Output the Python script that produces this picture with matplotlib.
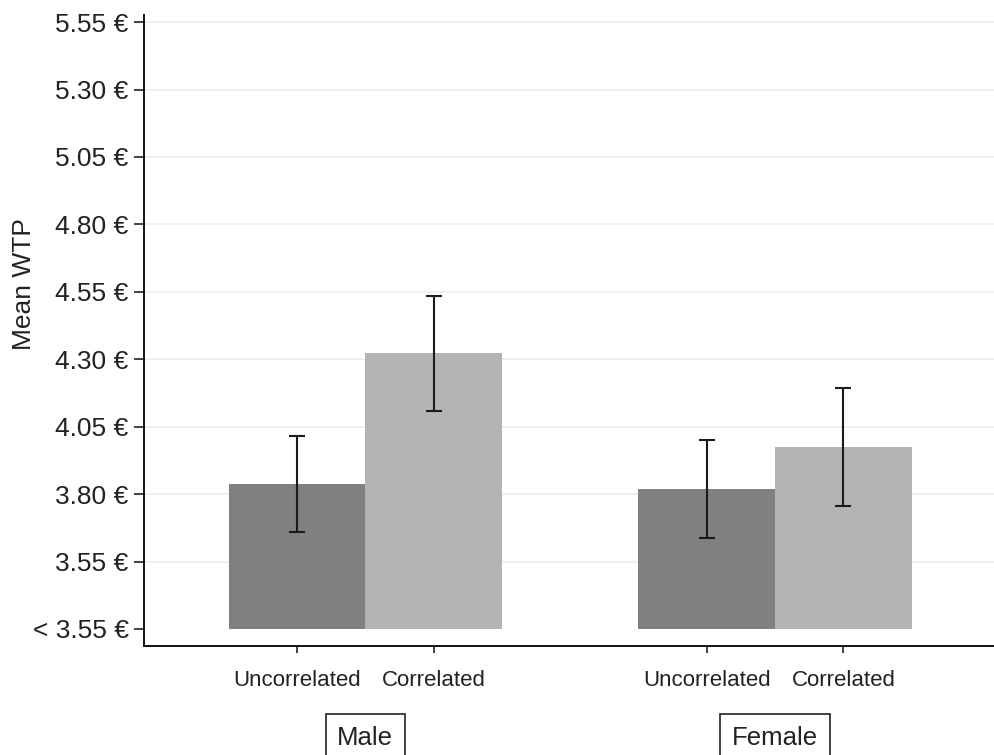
import matplotlib
matplotlib.use("Agg")
import matplotlib.pyplot as plt
import matplotlib.transforms as mtransforms

plt.rcParams['font.family'] = ['Liberation Sans', 'DejaVu Sans']

# data
groups = ["Male", "Female"]
conditions = ["Uncorrelated", "Correlated"]
male_means = [3.837, 4.322]
female_means = [3.819, 3.974]
male_err = [0.178, 0.213]
female_err = [0.183, 0.218]
bar_base = 3.30
y_ticks = [3.30, 3.55, 3.80, 4.05, 4.30, 4.55, 4.80, 5.05, 5.30, 5.55]
y_ticklabels = ["< 3.55 €"] + [f"{v:.2f} €" for v in y_ticks[1:]]

colors = ["#808080", "#b3b3b3"]

fig = plt.figure(figsize=(9.95, 7.55), dpi=100)
ax = fig.add_axes([0.1447, 0.1444, 0.8553, 0.8356])

positions = [[0, 1], [3, 4]]
means = [male_means, female_means]
errs = [male_err, female_err]

for pos, m, e in zip(positions, means, errs):
    heights = [v - bar_base for v in m]
    ax.bar(pos, heights, bottom=bar_base, width=1.0, color=colors, zorder=2)
    ax.errorbar(pos, m, yerr=e, fmt="none", ecolor="#1a1a1a", elinewidth=1.5,
                capsize=6, capthick=1.5, zorder=3)

ax.set_xlim(-1.12, 5.11)
ax.set_ylim(3.237, 5.576)

ax.set_yticks(y_ticks)
ax.set_yticklabels(y_ticklabels)
for v in y_ticks[1:]:
    ax.axhline(v, color="#ececec", lw=1.2, zorder=0)

ax.set_xticks([0, 1, 3, 4])
ax.set_xticklabels(conditions * 2)

ax.tick_params(axis="y", labelsize=19, length=7, width=1.2, pad=4, colors="#222222")
ax.tick_params(axis="x", labelsize=16, length=5, width=1.2, pad=12, colors="#222222")
ax.set_ylabel("Mean WTP", fontsize=19, color="#222222")
ax.yaxis.set_label_coords(-0.127, 0.574)

for side in ["top", "right"]:
    ax.spines[side].set_visible(False)
for side in ["left", "bottom"]:
    ax.spines[side].set_linewidth(1.4)
    ax.spines[side].set_color("#111111")

# group names in boxes under the tick labels
trans = mtransforms.blended_transform_factory(ax.transData, fig.transFigure)
for pos, name in zip(positions, groups):
    ax.text(sum(pos) / 2, 0.0132, name, transform=trans, ha="center", va="baseline",
            fontsize=18.5, color="#222222",
            bbox=dict(boxstyle="square,pad=0.45", fc="white", ec="#222222", lw=1.2))

fig.savefig("out.png", dpi=100)
